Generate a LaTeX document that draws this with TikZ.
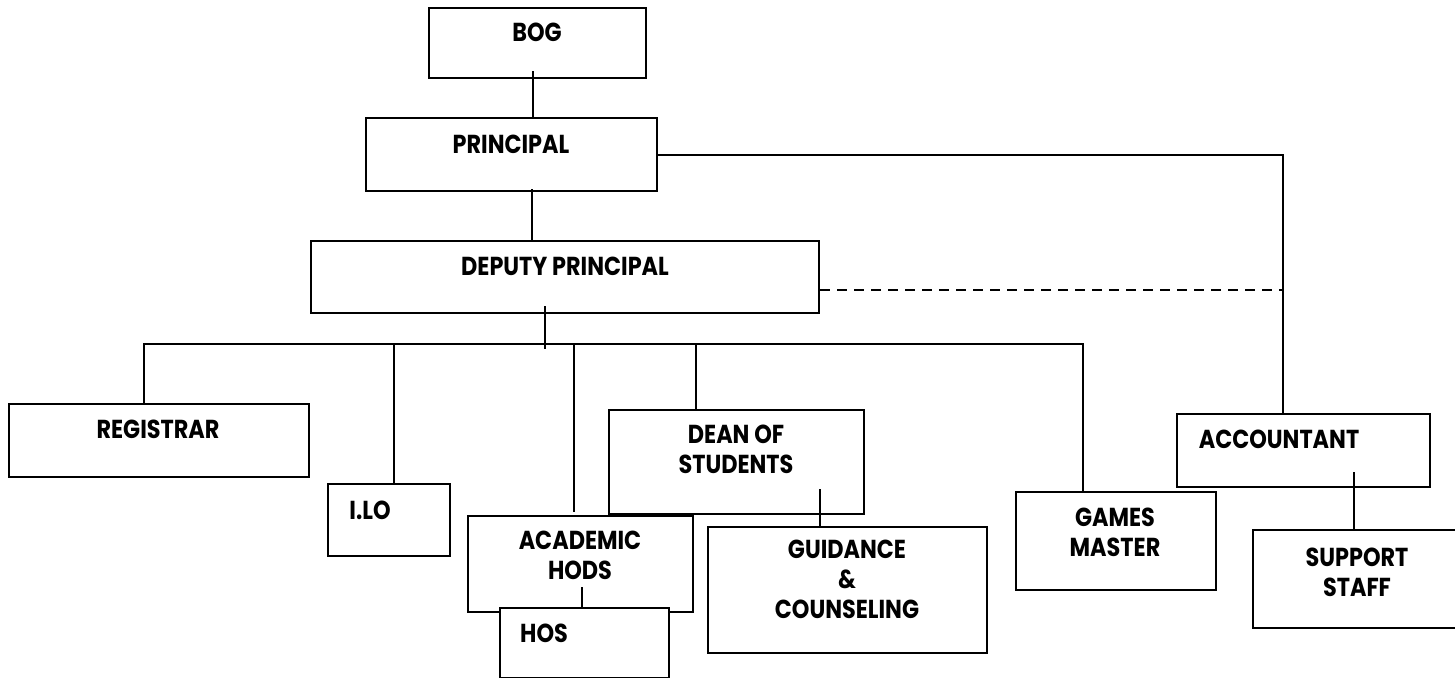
\documentclass[tikz,border=0pt]{standalone}
\usepackage{fontspec}
\setmainfont{Poppins}
\newfontfamily\labfont[FakeStretch=0.86]{Poppins}
\usetikzlibrary{calc}
\tikzset{
  boxs/.style={draw, line width=1.2pt, fill=white, inner sep=0pt, anchor=north west},
  conn/.style={line width=0.9pt},
  dashline/.style={line width=1.2pt, dash pattern=on 5pt off 3.5pt},
  lab/.style={font=\labfont\bfseries\fontsize{13}{15}\selectfont, inner sep=0pt, align=center, anchor=base}
}
\newcommand\orgbox[5]{\node[boxs, minimum width=#4*0.5pt, minimum height=#5*0.5pt] (#1) at (#2,#3) {};}
\begin{document}
\begin{tikzpicture}[x=0.5pt,y=-0.5pt]
\useasboundingbox (0,0) rectangle (1455,678);
% boxes
\orgbox{bog}{428}{7}{217}{70}
\orgbox{princ}{365}{117}{291}{73}
\orgbox{dep}{310}{240}{508}{72}
\orgbox{reg}{8}{403}{300}{73}
\orgbox{ilo}{327}{483}{122}{72}
\orgbox{acad}{467}{515}{225}{96}
\orgbox{dean}{608}{409}{255}{104}
\orgbox{guid}{707}{526}{279}{126}
\orgbox{games}{1015}{491}{200}{98}
\orgbox{acct}{1176}{413}{253}{73}
\orgbox{supp}{1252}{529}{212}{98}
% labels (base = baseline of last line)
\node[lab] (bogT) at (537,42) {BOG};
\node[lab] (princT) at (511,154) {PRINCIPAL};
\node[lab] (depT) at (565,276) {DEPUTY PRINCIPAL};
\node[lab] (regT) at (158,438) {REGISTRAR};
\node[lab] (iloT) at (370,519) {I.LO};
\node[lab] (acadT) at (580,579) {ACADEMIC\\HODS};
\node[lab] (deanT) at (736,473) {DEAN OF\\STUDENTS};
\node[lab] (guidT) at (847,618) {GUIDANCE\\\&\\COUNSELING};
\node[lab] (gamesT) at (1115,556) {GAMES\\MASTER};
\node[lab] (acctT) at (1279,448) {ACCOUNTANT};
\node[lab] (suppT) at (1357,596) {SUPPORT\\STAFF};
% connectors
\coordinate (c1) at ($(bog.south)+(-4.5,-8)$);
\draw[conn] (c1) -- (c1 |- princ.north);
\coordinate (c2) at ($(princ.south)+(20,-3)$);
\draw[conn] (c2) -- (c2 |- dep.north);
\coordinate (tk1) at ($(dep.south)+(-20,-8)$);
\coordinate (busM) at ($(dep.south)+(-20,30)$);
\coordinate (tk2) at ($(dep.south)+(-20,35)$);
\draw[conn] (tk1) -- (tk2);
\coordinate (dReg) at ($(reg.north)+(-15,0)$);
\coordinate (dIlo) at ($(ilo.north)+(5,0)$);
\coordinate (dAcad) at ($(acad.north)+(-6.5,0)$);
\coordinate (dDean) at ($(dean.north)+(-40.5,0)$);
\coordinate (dGames) at ($(games.north)+(-33,0)$);
\draw[conn] (dReg) -- (dReg |- busM) -- (dGames |- busM) -- (dGames);
\draw[conn] (dIlo |- busM) -- (dIlo);
\draw[conn] (dAcad |- busM) -- ($(dAcad)+(0,-3)$);
\draw[conn] (dDean |- busM) -- (dDean);
% principal to accountant
\coordinate (pr) at ($(acct.north)+(-20.5,0)$);
\draw[conn] (princ.east) -| (pr);
\coordinate (d1) at ($(dep.east)+(0,13)$);
\draw[dashline] (d1) -- (d1 -| pr);
% sub connectors
\coordinate (s1) at ($(acad.south)+(1.5,-26)$);
\orgbox{hos}{499}{607}{169}{70}
\node[lab] (hosT) at (544,642) {HOS};
\draw[conn] (s1) -- (s1 |- hos.north);
\coordinate (s2) at ($(dean.south)+(83.5,-26)$);
\draw[conn] (s2) -- (s2 |- guid.north);
\coordinate (s3) at ($(acct.south)+(50.5,-16)$);
\draw[conn] (s3) -- (s3 |- supp.north);
\end{tikzpicture}
\end{document}
